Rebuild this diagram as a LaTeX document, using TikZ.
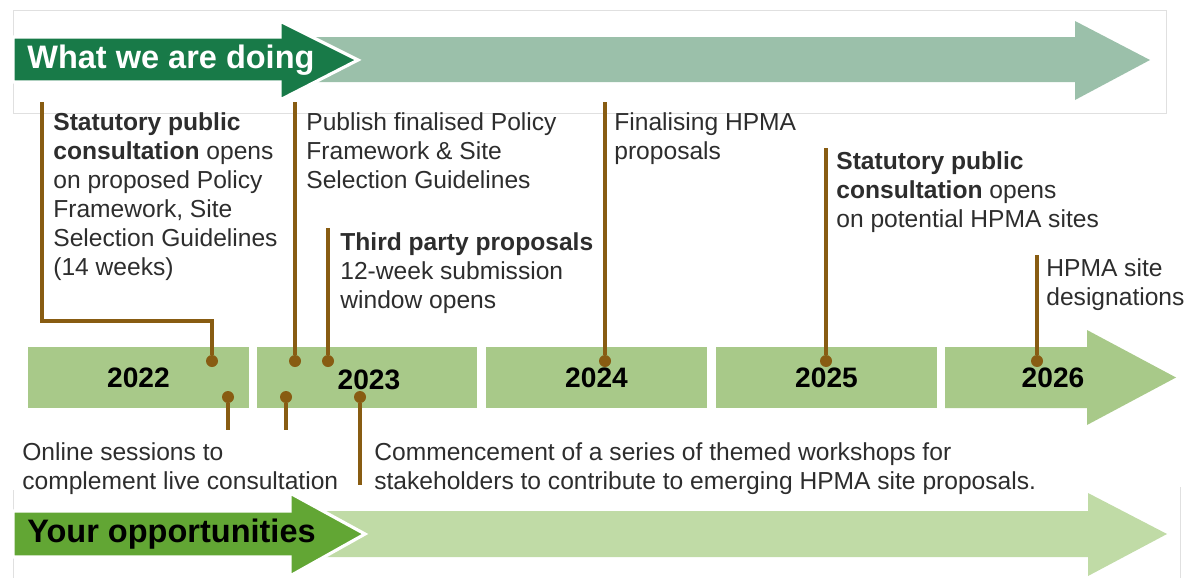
\documentclass[tikz,border=0pt]{standalone}
\usepackage{fontspec}
\setmainfont{Liberation Sans}
\setsansfont{Liberation Sans}
\usetikzlibrary{positioning, calc}

\definecolor{doingdark}{RGB}{24,122,72}
\definecolor{doinglight}{RGB}{155,192,170}
\definecolor{yearbar}{RGB}{168,201,137}
\definecolor{oppdark}{RGB}{98,166,52}
\definecolor{opplight}{RGB}{192,219,166}
\definecolor{pin}{RGB}{136,92,18}
\definecolor{bodytext}{RGB}{45,45,45}

\begin{document}
\begin{tikzpicture}[
  x=0.02cm, y=-0.02cm,
  font=\sffamily,
  every node/.style={font=\sffamily},
  txt/.style={anchor=north west, inner sep=0pt, align=left, text=bodytext, font=\sffamily\fontsize{14}{16.5}\selectfont},
  headline/.style={anchor=west, inner sep=0pt, font=\sffamily\bfseries\fontsize{18.5}{22}\selectfont},
  seg/.style={fill=yearbar, minimum width=4.42cm, minimum height=1.22cm, inner sep=0pt, font=\sffamily\bfseries\fontsize{16}{18}\selectfont},
  yearlabel/.style={inner sep=0pt, font=\sffamily\bfseries\fontsize{16}{18}\selectfont},
  dot/.style={circle, fill=pin, minimum size=0.24cm, inner sep=0pt},
  link/.style={draw=pin, line width=1.9pt},
  frame/.style={draw=black!12, line width=0.5pt},
  outline/.style={draw=white, line width=1.8pt, line join=miter}
]
\useasboundingbox (0,0) rectangle (1189,578);

% === TOP BAND: WHAT WE ARE DOING ===
\draw[frame] (13,10) rectangle (1166,113);
\fill[doinglight] (300,37) -- (1075,37) -- (1075,21) -- (1150,60) -- (1075,100) -- (1075,82) -- (300,82) -- cycle;
\draw[outline, fill=doingdark] (13,37) -- (280,37) -- (280,21) -- (358,60) -- (280,100) -- (280,82) -- (13,82) -- cycle;
\node[headline, text=white] (doing) at (27,60) {What we are doing};

% === YEAR BAR ===
\node[seg] (y2022) at (138.5,377.5) {2022};
\node[seg] (y2023) at (367,377.5)   {};
\node[seg] (y2024) at (596.5,377.5) {2024};
\node[seg] (y2025) at (826.5,377.5) {2025};
\fill[yearbar] (945,347) -- (1087,347) -- (1087,330) -- (1176,377.5) -- (1087,425) -- (1087,408) -- (945,408) -- cycle;
\node[yearlabel] (lab2023) at (369,380) {2023};
\node[yearlabel] (lab2026) at (1053,378) {2026};

% === PINS ABOVE THE BAR ===
\node[dot] (p1) at (212,361) {};
\node[dot] (p2) at (295,361) {};
\node[dot] (p3) at (328,361) {};
\node[dot] (p4) at (605,361) {};
\node[dot] (p5) at (826,361) {};
\node[dot] (p6) at (1037,361) {};

\coordinate (t1) at (42,102);
\coordinate (t2) at (295,102);
\coordinate (t3) at (328,228);
\coordinate (t4) at (605,102);
\coordinate (t5) at (826,148);
\coordinate (t6) at (1037,255);

\draw[link] (t1) -- ++(0,219) -| (p1);
\draw[link] (t2) -- (p2);
\draw[link] (t3) -- (p3);
\draw[link] (t4) -- (p4);
\draw[link] (t5) -- (p5);
\draw[link] (t6) -- (p6);

\node[txt] (consult1) at (53,112) {\textbf{Statutory public}\\\textbf{consultation} opens\\on proposed Policy\\Framework, Site\\Selection Guidelines\\(14 weeks)};
\node[txt] (publish) at (306,112) {Publish finalised Policy\\Framework \& Site\\Selection Guidelines};
\node[txt] (third) at (340,232) {\textbf{Third party proposals}\\12-week submission\\window opens};
\node[txt] (final) at (614,112) {Finalising HPMA\\proposals};
\node[txt] (consult2) at (836,151) {\textbf{Statutory public}\\\textbf{consultation} opens\\on potential HPMA sites};
\node[txt] (desig) at (1046,258) {HPMA site\\designations};

% === PINS BELOW THE BAR ===
\node[dot] (q1) at (228,397) {};
\node[dot] (q2) at (286,397) {};
\node[dot] (q3) at (360,397) {};

\coordinate (b1) at (228,430);
\coordinate (b2) at (286,430);
\coordinate (b3) at (360,485);

\draw[link] (q1) -- (b1);
\draw[link] (q2) -- (b2);
\draw[link] (q3) -- (b3);

\node[txt] (online) at (22,442) {Online sessions to\\complement live consultation};
\node[txt] (workshops) at (374,442) {Commencement of a series of themed workshops for\\stakeholders to contribute to emerging HPMA site proposals.};

% === BOTTOM BAND: YOUR OPPORTUNITIES ===
\draw[frame] (13,490) -- (13,578);
\draw[frame] (1180,487) -- (1180,578);
\fill[opplight] (310,511) -- (1088,511) -- (1088,493) -- (1167,534) -- (1088,576) -- (1088,557) -- (310,557) -- cycle;
\draw[outline, fill=oppdark] (13,511) -- (290,511) -- (290,493) -- (365,534) -- (290,576) -- (290,557) -- (13,557) -- cycle;
\node[headline, text=black] (opps) at (27,534) {Your opportunities};

\end{tikzpicture}
\end{document}
